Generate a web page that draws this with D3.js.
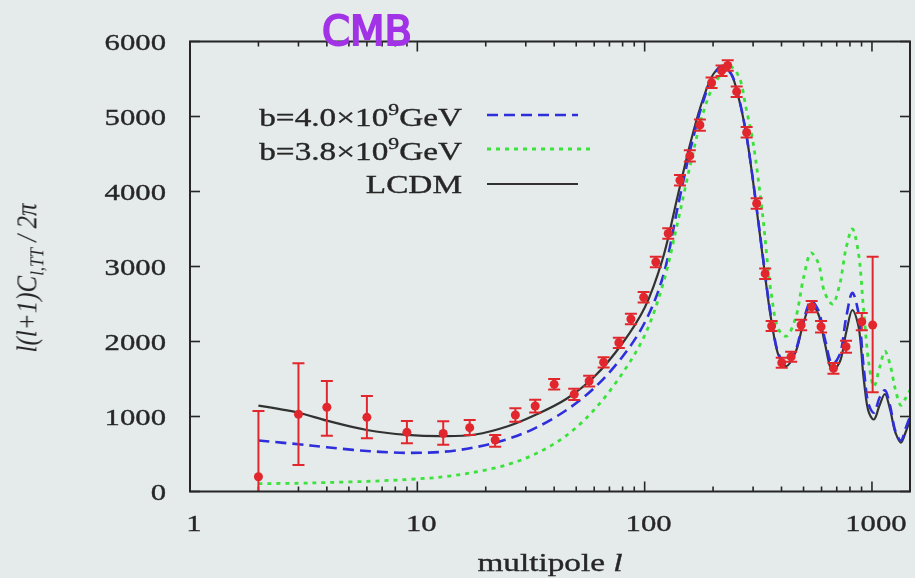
<!DOCTYPE html>
<html>
<head>
<meta charset="utf-8">
<script src="https://cdn.jsdelivr.net/npm/d3@7"></script>
<style>
html, body { margin: 0; padding: 0; background: #e5ebea; }
svg { display: block; }
</style>
</head>
<body>
<div id="chart-container"></div>
<script>
'use strict'

// model curves, sampled on one multipole grid
var curveL = [2, 3, 4, 6, 9, 13, 18, 25, 33, 45, 60, 80, 100, 120, 140, 160, 180, 200, 220, 240,
    260, 280, 300, 330, 360, 390, 420, 460, 500, 540, 580, 620, 670, 720, 770, 820, 870, 920, 970,
    1020, 1080, 1140, 1200, 1270, 1340, 1410, 1470]
var lcdmV = [1144, 1050, 945, 820, 755, 738, 760, 870, 1020, 1230, 1530, 1980, 2450, 3100, 3950,
    4680, 5220, 5560, 5680, 5570, 5230, 4760, 4130, 3150, 2300, 1800, 1670, 1850, 2250, 2500, 2370,
    1980, 1620, 1720, 2120, 2420, 2220, 1500, 1050, 960, 1150, 1300, 1100, 780, 650, 800, 950]
var b40V = [680, 630, 590, 540, 515, 530, 590, 700, 845, 1080, 1380, 1800, 2250, 2850, 3800,
    4600, 5180, 5540, 5670, 5570, 5240, 4760, 4140, 3170, 2330, 1820, 1690, 1870, 2280, 2540, 2420,
    2040, 1700, 1820, 2320, 2650, 2400, 1650, 1150, 1050, 1250, 1350, 1150, 800, 680, 850, 1000]
var b38V = [105, 110, 120, 135, 160, 195, 260, 360, 500, 740, 1090, 1580, 2080, 2750, 3600,
    4400, 5030, 5400, 5580, 5660, 5530, 5100, 4650, 3700, 2650, 2150, 2070, 2300, 2850, 3180, 3050,
    2650, 2500, 2750, 3250, 3500, 3200, 2400, 1700, 1400, 1650, 1870, 1700, 1350, 1150, 1250, 1350]

// measured band powers with error bars
var dataL = [2, 3, 4, 6, 9, 13, 17, 22, 27, 33, 40, 49, 57, 66, 77, 87, 99, 112, 127, 143, 158,
    175, 197, 218, 232, 254, 281, 311, 339, 362, 401, 441, 488, 543, 597, 677, 769, 902, 1007]
var dataV = [197, 1029, 1123, 989, 789, 773, 851, 687, 1020, 1140, 1429, 1296, 1473, 1723, 1984,
    2300, 2590, 3060, 3440, 4150, 4475, 4887, 5450, 5610, 5680, 5331, 4787, 3840, 2905, 2207, 1717,
    1797, 2220, 2464, 2197, 1642, 1931, 2264, 2220]
var dataLo = [0, 353, 744, 709, 643, 624, 753, 597, 930, 1055, 1360, 1220, 1400, 1655, 1915,
    2230, 2520, 2990, 3370, 4080, 4400, 4810, 5380, 5540, 5610, 5260, 4720, 3770, 2835, 2140, 1650,
    1730, 2150, 2390, 2120, 1570, 1850, 2150, 1323]
var dataHi = [1073, 1709, 1473, 1273, 940, 936, 953, 753, 1110, 1225, 1500, 1370, 1545, 1790, 2050,
    2370, 2660, 3130, 3510, 4220, 4550, 4960, 5520, 5680, 5750, 5400, 4860, 3910, 2975, 2275, 1785,
    1865, 2290, 2540, 2275, 1715, 2010, 2380, 3131]

var yTicks = [0, 1000, 2000, 3000, 4000, 5000, 6000]
var xTicks = [1, 10, 100, 1000]
var xTickLabels = ['1', '10', '100', '1000']
var legendNames = ['b=4.0\u00d710', 'b=3.8\u00d710', 'LCDM']

var width = 915, height = 578
var plot = { left: 190, right: 910, top: 41.5, bottom: 491.5 }
var stretch = 1.28   // the original figure is squashed sideways, so text is wide

var svg = d3.select('#chart-container').append('svg')
    .attr('width', width).attr('height', height)
    .style('background', '#e5ebea')

var defs = svg.append('defs')
defs.append('filter').attr('id', 'soft')
    .attr('x', -0.05).attr('y', -0.05).attr('width', 1.1).attr('height', 1.1)
    .append('feGaussianBlur').attr('stdDeviation', 0.6)
defs.append('clipPath').attr('id', 'frame')
    .append('rect')
        .attr('x', plot.left).attr('y', plot.top)
        .attr('width', plot.right - plot.left).attr('height', plot.bottom - plot.top)

var chart = svg.append('g').attr('filter', 'url(#soft)')

var x = d3.scaleLog().domain([1, 1470]).range([plot.left, plot.right])
var y = d3.scaleLinear().domain([0, 6000]).range([plot.bottom, plot.top])

var serif = '"Liberation Serif", "Times New Roman", serif'
var ink = '#262626'

var wideText = function(g, px, py, size, anchor) {
    return g.append('text')
        .attr('transform', 'translate(' + px + ',' + py + ') scale(' + stretch + ',1)')
        .attr('text-anchor', anchor)
        .style('font-family', serif)
        .style('font-size', size + 'px')
        .style('fill', ink)
        .style('stroke', ink)
        .style('stroke-width', 0.35)
}

// ticks: major and minor on all four sides, pointing inward
var minor = []
for (var k = 0; k < 4; k++) {
    for (var m = 2; m <= 9; m++) {
        var v = m * Math.pow(10, k)
        if (v < 1470) minor.push(v)
    }
}
var tickG = chart.append('g').style('stroke', ink).style('stroke-width', 1.6)
xTicks.forEach(function(t) {
    tickG.append('line').attr('x1', x(t)).attr('x2', x(t)).attr('y1', plot.bottom).attr('y2', plot.bottom - 10)
    tickG.append('line').attr('x1', x(t)).attr('x2', x(t)).attr('y1', plot.top).attr('y2', plot.top + 10)
})
minor.forEach(function(t) {
    tickG.append('line').attr('x1', x(t)).attr('x2', x(t)).attr('y1', plot.bottom).attr('y2', plot.bottom - 5)
    tickG.append('line').attr('x1', x(t)).attr('x2', x(t)).attr('y1', plot.top).attr('y2', plot.top + 5)
})
yTicks.forEach(function(t) {
    tickG.append('line').attr('x1', plot.left).attr('x2', plot.left + 10).attr('y1', y(t)).attr('y2', y(t))
    tickG.append('line').attr('x1', plot.right).attr('x2', plot.right - 10).attr('y1', y(t)).attr('y2', y(t))
})

// tick labels
yTicks.forEach(function(t) {
    wideText(chart, 166, y(t) + 8, 24, 'end').text(t)
})
xTicks.forEach(function(t, i) {
    wideText(chart, x(t) + 4, 531, 24, 'middle').text(xTickLabels[i])
})

// axis titles
var xt = wideText(chart, 550, 571, 26, 'middle')
xt.append('tspan').text('multipole ')
xt.append('tspan').style('font-style', 'italic').text('l')

var yt = chart.append('text')
    .attr('transform', 'translate(36,278) rotate(-90) scale(1,' + 1.15 + ')')
    .attr('text-anchor', 'middle')
    .style('font-family', serif).style('font-size', '25px').style('font-style', 'italic')
    .style('fill', ink)
yt.append('tspan').text('l(l+1)C')
yt.append('tspan').attr('dy', 6).style('font-size', '17px').text('l,TT')
yt.append('tspan').attr('dy', -6).text(' / 2\u03c0')

// model curves
var curves = chart.append('g').attr('clip-path', 'url(#frame)')
var line = function(vals) {
    return d3.line()
        .x(function(d, i) { return x(curveL[i]) })
        .y(function(d) { return y(d) })
        .curve(d3.curveCatmullRom.alpha(0.5))(vals)
}
var styles = [
    { vals: lcdmV, color: '#333333', dash: null, w: 2.2 },
    { vals: b40V, color: '#2f2fdc', dash: '11,6', w: 2.6 },
    { vals: b38V, color: '#3be23b', dash: '4,5', w: 2.8 }
]
styles.forEach(function(s) {
    curves.append('path')
        .attr('d', line(s.vals))
        .style('fill', 'none')
        .style('stroke', s.color)
        .style('stroke-width', s.w)
        .style('stroke-dasharray', s.dash)
})

// data with error bars
var red = '#e2282d'
var pts = chart.append('g').attr('clip-path', 'url(#frame)')
pts.selectAll('.err').data(dataL)
    .enter().append('line')
    .attr('class', 'err')
    .attr('x1', function(d) { return x(d) }).attr('x2', function(d) { return x(d) })
    .attr('y1', function(d, i) { return y(dataLo[i]) })
    .attr('y2', function(d, i) { return y(dataHi[i]) })
    .style('stroke', red).style('stroke-width', 2)
pts.selectAll('.capHi').data(dataL)
    .enter().append('line')
    .attr('class', 'capHi')
    .attr('x1', function(d) { return x(d) - 6 }).attr('x2', function(d) { return x(d) + 6 })
    .attr('y1', function(d, i) { return y(dataHi[i]) })
    .attr('y2', function(d, i) { return y(dataHi[i]) })
    .style('stroke', red).style('stroke-width', 2)
pts.selectAll('.capLo').data(dataL.filter(function(d, i) { return dataLo[i] > 0 }))
    .enter().append('line')
    .attr('class', 'capLo')
    .attr('x1', function(d) { return x(d) - 6 }).attr('x2', function(d) { return x(d) + 6 })
    .attr('y1', function(d) { return y(dataLo[dataL.indexOf(d)]) })
    .attr('y2', function(d) { return y(dataLo[dataL.indexOf(d)]) })
    .style('stroke', red).style('stroke-width', 2)
pts.selectAll('.point').data(dataL)
    .enter().append('circle')
    .attr('class', 'point')
    .attr('cx', function(d) { return x(d) })
    .attr('cy', function(d, i) { return y(dataV[i]) })
    .attr('r', 4.5)
    .style('fill', red)

// frame
chart.append('rect')
    .attr('x', plot.left).attr('y', plot.top)
    .attr('width', plot.right - plot.left).attr('height', plot.bottom - plot.top)
    .style('fill', 'none').style('stroke', ink).style('stroke-width', 2)

// legend
var legY = [126, 159.5, 193]
var lineY = [115, 149, 184]
legendNames.forEach(function(name, i) {
    var t = wideText(chart, 462, legY[i], 26, 'end')
    t.append('tspan').text(name)
    if (i < 2) {
        t.append('tspan').attr('dy', -11).style('font-size', '17px').text('9')
        t.append('tspan').attr('dy', 11).text('GeV')
    }
    var s = styles[(i + 1) % 3]
    chart.append('line')
        .attr('x1', 487).attr('x2', i == 1 ? 590 : 578)
        .attr('y1', lineY[i]).attr('y2', lineY[i])
        .style('stroke', s.color).style('stroke-width', s.w)
        .style('stroke-dasharray', s.dash)
})

// title
chart.append('text')
    .attr('x', 367).attr('y', 45)
    .attr('text-anchor', 'middle')
    .style('font-family', '"DejaVu Sans", sans-serif')
    .style('font-size', '40px')
    .style('fill', '#a233e6')
    .style('stroke', '#a233e6')
    .style('stroke-width', 2)
    .text('CMB')
</script>
</body>
</html>
